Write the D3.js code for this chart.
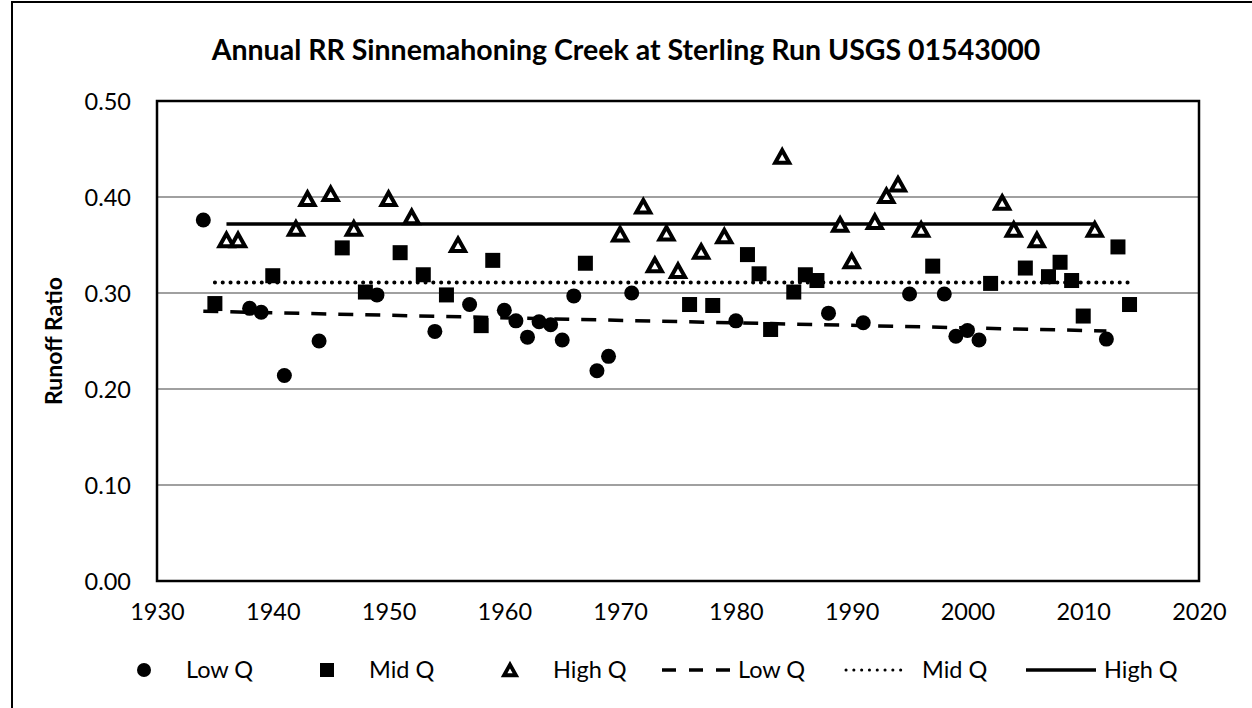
<!DOCTYPE html>
<html>
<head>
<meta charset="utf-8">
<script src="https://cdn.jsdelivr.net/npm/d3@7"></script>
<style>
    html, body { margin: 0; padding: 0; background: #fff; }
    svg { display: block; font-family: Lato, "Open Sans", sans-serif; }
</style>
</head>
<body>
<div id="chart"></div>
<script>
// [year, runoff ratio]
const lowQ = [
    [1934, 0.376], [1938, 0.284], [1939, 0.280], [1941, 0.214], [1944, 0.250],
    [1949, 0.298], [1954, 0.260], [1957, 0.288], [1960, 0.282], [1961, 0.271],
    [1962, 0.254], [1963, 0.270], [1964, 0.267], [1965, 0.251], [1966, 0.297],
    [1968, 0.219], [1969, 0.234], [1971, 0.300], [1980, 0.271], [1988, 0.279],
    [1991, 0.269], [1995, 0.299], [1998, 0.299], [1999, 0.255], [2000, 0.261],
    [2001, 0.251], [2012, 0.252]
];
const midQ = [
    [1935, 0.289], [1940, 0.318], [1946, 0.347], [1948, 0.301], [1951, 0.342],
    [1953, 0.319], [1955, 0.298], [1958, 0.266], [1959, 0.334], [1967, 0.331],
    [1976, 0.288], [1978, 0.287], [1981, 0.340], [1982, 0.320], [1983, 0.262],
    [1985, 0.301], [1986, 0.319], [1987, 0.313], [1997, 0.328], [2002, 0.310],
    [2005, 0.326], [2007, 0.317], [2008, 0.332], [2009, 0.313], [2010, 0.276],
    [2013, 0.348], [2014, 0.288]
];
const highQ = [
    [1936, 0.355], [1937, 0.355], [1942, 0.367], [1943, 0.398], [1945, 0.403],
    [1947, 0.367], [1950, 0.398], [1952, 0.379], [1956, 0.350], [1970, 0.361],
    [1972, 0.390], [1973, 0.329], [1974, 0.362], [1975, 0.323], [1977, 0.343],
    [1979, 0.359], [1984, 0.442], [1989, 0.371], [1990, 0.333], [1992, 0.374],
    [1993, 0.401], [1994, 0.413], [1996, 0.366], [2003, 0.394], [2004, 0.366],
    [2006, 0.355], [2011, 0.366]
];

// trend lines (end points)
const lowTrend = [[1934, 0.281], [2012, 0.2605]];
const midTrend = [[1935, 0.311], [2014, 0.311]];
const highTrend = [[1936, 0.372], [2011, 0.372]];

const xTicks = [1930, 1940, 1950, 1960, 1970, 1980, 1990, 2000, 2010, 2020];
const yTicks = [0, 0.1, 0.2, 0.3, 0.4, 0.5];

const title = "Annual RR Sinnemahoning Creek at Sterling Run USGS 01543000";
const yTitle = "Runoff Ratio";

const width = 1252;
const height = 708;
const plot = { left: 157, right: 1199, top: 101, bottom: 581 };

const svg = d3.select("#chart")
    .append("svg")
    .attr("width", width)
    .attr("height", height);

// chart frame (only left/top edges fall inside the window)
svg.append("rect")
    .attr("x", 12).attr("y", 2)
    .attr("width", width + 20).attr("height", height + 20)
    .attr("fill", "none")
    .attr("stroke", "#000")
    .attr("stroke-width", 2);

const x = d3.scaleLinear().domain([1930, 2020]).range([plot.left, plot.right]);
const y = d3.scaleLinear().domain([0, 0.5]).range([plot.bottom, plot.top]);

// gridlines
svg.append("g")
    .selectAll("line")
    .data(yTicks.slice(1, -1))
    .enter().append("line")
    .attr("x1", plot.left).attr("x2", plot.right)
    .attr("y1", d => y(d)).attr("y2", d => y(d))
    .attr("stroke", "#a0a0a0")
    .attr("stroke-width", 2);

// axes (labels only, no tick marks)
const yAxis = svg.append("g")
    .attr("transform", `translate(${plot.left},0)`)
    .call(d3.axisLeft(y).tickValues(yTicks).tickFormat(d3.format(".2f")).tickSize(0).tickPadding(26));
const xAxis = svg.append("g")
    .attr("transform", `translate(0,${plot.bottom})`)
    .call(d3.axisBottom(x).tickValues(xTicks).tickFormat(d3.format("d")).tickSize(0).tickPadding(22));

[yAxis, xAxis].forEach(a => {
    a.select(".domain").remove();
    a.selectAll("text")
        .attr("font-family", "Lato, sans-serif")
        .attr("font-size", 23.5)
        .attr("fill", "#000");
});
yAxis.selectAll("text").attr("dy", "0.35em");

// plot border
svg.append("rect")
    .attr("x", plot.left).attr("y", plot.top)
    .attr("width", plot.right - plot.left)
    .attr("height", plot.bottom - plot.top)
    .attr("fill", "none")
    .attr("stroke", "#000")
    .attr("stroke-width", 2.5);

// titles
svg.append("text")
    .attr("x", 626).attr("y", 60)
    .attr("text-anchor", "middle")
    .attr("font-size", 28.5)
    .attr("font-weight", "bold")
    .text(title);

svg.append("text")
    .attr("transform", `translate(62,${(plot.top + plot.bottom) / 2}) rotate(-90)`)
    .attr("text-anchor", "middle")
    .attr("font-size", 23)
    .attr("font-weight", "bold")
    .text(yTitle);

// trend lines
const line = d3.line().x(d => x(d[0])).y(d => y(d[1]));
const trendStyles = [
    { data: lowTrend, dash: "15,12", cap: "butt", w: 3.5 },
    { data: midTrend, dash: "0.1,7.7", cap: "round", w: 4 },
    { data: highTrend, dash: null, cap: "butt", w: 3.5 }
];
trendStyles.forEach(t => {
    svg.append("path")
        .attr("d", line(t.data))
        .attr("fill", "none")
        .attr("stroke", "#000")
        .attr("stroke-width", t.w)
        .attr("stroke-linecap", t.cap)
        .attr("stroke-dasharray", t.dash);
});

// markers
const triPath = "M0,-7.5L7,5L-7,5Z";

svg.append("g").selectAll("circle")
    .data(lowQ)
    .enter().append("circle")
    .attr("cx", d => x(d[0])).attr("cy", d => y(d[1]))
    .attr("r", 7.5)
    .attr("fill", "#000");

svg.append("g").selectAll("rect")
    .data(midQ)
    .enter().append("rect")
    .attr("x", d => x(d[0]) - 7.5).attr("y", d => y(d[1]) - 7.5)
    .attr("width", 15).attr("height", 15)
    .attr("fill", "#000");

svg.append("g").selectAll("path")
    .data(highQ)
    .enter().append("path")
    .attr("transform", d => `translate(${x(d[0])},${y(d[1]) + 1})`)
    .attr("d", triPath)
    .attr("fill", "#fff")
    .attr("stroke", "#000")
    .attr("stroke-width", 4)
    .attr("stroke-linejoin", "miter");

// legend
const legendY = 670;
const legend = svg.append("g");
legend.append("circle").attr("cx", 144).attr("cy", legendY).attr("r", 7).attr("fill", "#000");
legend.append("rect").attr("x", 320).attr("y", legendY - 7).attr("width", 14).attr("height", 14).attr("fill", "#000");
legend.append("path")
    .attr("transform", `translate(510,${legendY + 1}) scale(0.85)`)
    .attr("d", triPath)
    .attr("fill", "#fff").attr("stroke", "#000").attr("stroke-width", 4.5);
legend.append("line").attr("x1", 662).attr("x2", 730).attr("y1", legendY).attr("y2", legendY)
    .attr("stroke", "#000").attr("stroke-width", 3.5).attr("stroke-dasharray", "14,13");
legend.append("line").attr("x1", 846).attr("x2", 908).attr("y1", legendY).attr("y2", legendY)
    .attr("stroke", "#000").attr("stroke-width", 3).attr("stroke-linecap", "round").attr("stroke-dasharray", "0.1,7.7");
legend.append("line").attr("x1", 1026).attr("x2", 1096).attr("y1", legendY).attr("y2", legendY)
    .attr("stroke", "#000").attr("stroke-width", 3.5);

const legendLabels = [
    { x: 186, text: "Low Q" }, { x: 369, text: "Mid Q" }, { x: 553, text: "High Q" },
    { x: 738, text: "Low Q" }, { x: 922, text: "Mid Q" }, { x: 1104, text: "High Q" }
];
legend.selectAll("text")
    .data(legendLabels)
    .enter().append("text")
    .attr("x", d => d.x).attr("y", legendY)
    .attr("dy", "0.35em")
    .attr("font-size", 23.5)
    .text(d => d.text);
</script>
</body>
</html>
